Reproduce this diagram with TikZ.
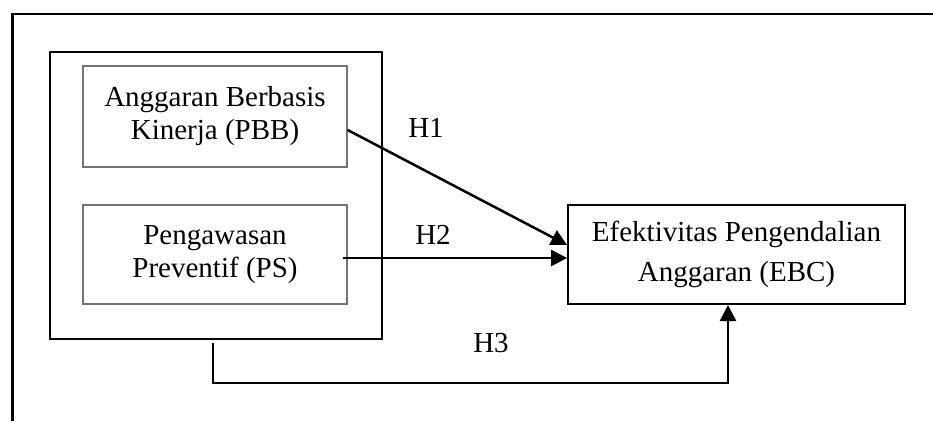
\documentclass[tikz,border=0pt]{standalone}
\usepackage{fontspec}
\setmainfont{Liberation Serif}
\usetikzlibrary{arrows.meta}
\begin{document}
\begin{tikzpicture}[x=1pt,y=-1pt,
  varbox/.style={draw=black!55,line width=1.3pt,minimum width=264pt,align=center,
    inner sep=0pt,font=\fontsize{29}{33}\selectfont},
  outbox/.style={draw=black,line width=1.8pt,minimum width=337pt,minimum height=99pt,
    align=center,inner sep=0pt,font=\fontsize{29}{40}\selectfont},
  hlabel/.style={font=\fontsize{29}{30}\selectfont,inner sep=0pt},
  link/.style={line width=2.5pt,-{Triangle[length=16pt,width=16pt]}},
  frame/.style={line width=2.3pt}]
\useasboundingbox (0,0) rectangle (933,421);

% page frame (top and left edges only)
\coordinate (ftl) at (12.5,14);
\coordinate (ftr) at (933,14);
\coordinate (fbl) at (12.5,421);
\draw[frame] (fbl) -- (ftl) -- (ftr);

% grouping box around the two independent variables
\node[draw,line width=2.3pt,minimum width=332pt,minimum height=287pt,inner sep=0pt]
  (grp) at (216,195.5) {};

\node[varbox,minimum height=101pt] (pbb) at (215,116.5)
  {Anggaran Berbasis\\Kinerja (PBB)};
\node[varbox,minimum height=99pt] (ps) at (215,254.5)
  {Pengawasan\\Preventif (PS)};
\node[outbox] (ebc) at (736.5,254.5)
  {Efektivitas Pengendalian\\Anggaran (EBC)};

% arrow end points on the box borders
\coordinate (h1s) at (pbb.east |- 0,130);
\coordinate (h1e) at (ebc.west |- 0,245);
\coordinate (h2s) at (343,258);
\coordinate (h2e) at (ebc.west |- 0,258);
\coordinate (h3s) at (213,343);
\coordinate (h3c) at (213,383);
\coordinate (h3e) at (728,305);

\draw[link] (h1s) -- (h1e);
\draw[link] (h2s) -- (h2e);
\draw[link] (h3s) -- (h3c) -| (h3e);

\node[hlabel] (l1) at (426,128) {H1};
\node[hlabel] (l2) at (433,235) {H2};
\node[hlabel] (l3) at (491,343) {H3};
\end{tikzpicture}
\end{document}
